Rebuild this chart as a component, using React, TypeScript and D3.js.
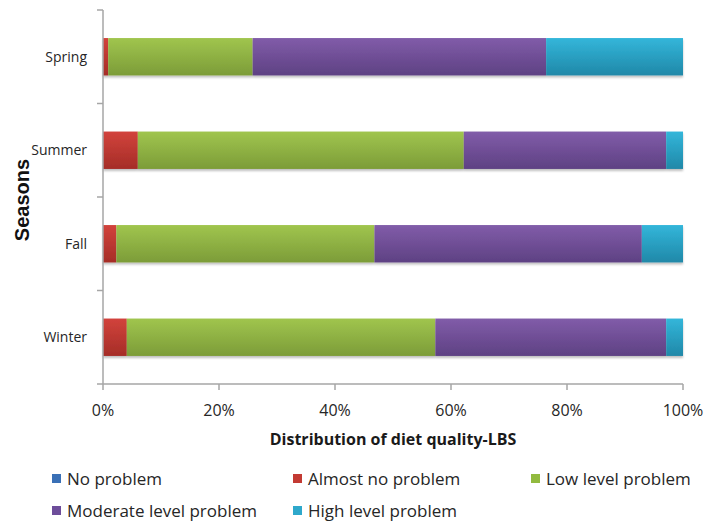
import React from "react";
import * as d3 from "d3";

// Seasons on the category axis, top to bottom
const seasons = ["Spring", "Summer", "Fall", "Winter"];

// Legend / stack order
const levels = [
  "No problem",
  "Almost no problem",
  "Low level problem",
  "Moderate level problem",
  "High level problem",
];

// Share of each diet-quality level per season (percent)
const noProblem = [0, 0, 0, 0];
const almostNoProblem = [0.9, 6.0, 2.3, 4.1];
const lowLevel = [24.9, 56.2, 44.5, 53.2];
const moderateLevel = [50.6, 34.9, 46.1, 39.8];
const highLevel = [23.6, 2.9, 7.1, 2.9];

const xTicks = [0, 20, 40, 60, 80, 100];

const seriesValues = [noProblem, almostNoProblem, lowLevel, moderateLevel, highLevel];

// Bar gradient stops (top, bottom) and legend swatch colours
const barTop = ["#4a80c4", "#d2433c", "#a0c54e", "#815ca9", "#33b6da"];
const barBottom = ["#2f5f9e", "#a52d27", "#7c9c38", "#5e4183", "#2088a8"];
const swatch = ["#3a70b6", "#c33a33", "#92ba3f", "#6d4d9a", "#2ea8cb"];

const W = 707;
const H = 524;
const FONT = "'Open Sans', 'Noto Sans', sans-serif";

export default function App() {
  const x = d3.scaleLinear().domain([0, 100]).range([103, 683]);
  const y = d3
    .scaleBand<string>()
    .domain(seasons)
    .range([10, 384])
    .paddingInner(0.6)
    .paddingOuter(0.3);

  const rows = seasons.map((s, i) => {
    const obj: Record<string, number | string> = { season: s };
    levels.forEach((l, j) => (obj[l] = seriesValues[j][i]));
    return obj;
  });
  const stack = d3.stack<Record<string, number | string>>().keys(levels);
  const stacked = stack(rows as any);

  const step = y.step();
  const boundaries = seasons.map((s) => (y(s) as number) - step * 0.3).concat([384]);

  const legendPos = [
    { x: 52, y: 479 },
    { x: 293, y: 479 },
    { x: 531, y: 479 },
    { x: 52, y: 511 },
    { x: 293, y: 511 },
  ];

  return (
    <svg
      width={W}
      height={H}
      style={{ position: "absolute", left: 0, top: 0, background: "#fff" }}
      fontFamily={FONT}
    >
      <defs>
        {levels.map((l, j) => (
          <linearGradient key={l} id={`g${j}`} x1="0" y1="0" x2="0" y2="1">
            <stop offset="0%" stopColor={barTop[j]} />
            <stop offset="100%" stopColor={barBottom[j]} />
          </linearGradient>
        ))}
        <filter id="shadow" x="-5%" y="-20%" width="110%" height="160%">
          <feDropShadow dx="0" dy="2" stdDeviation="1.2" floodColor="#000" floodOpacity="0.25" />
        </filter>
      </defs>

      {/* stacked bars */}
      <g filter="url(#shadow)">
        {stacked.map((layer, j) =>
          layer.map((d, i) => {
            const x0 = x(d[0]);
            const x1 = x(d[1]);
            if (x1 - x0 <= 0) return null;
            return (
              <rect
                key={`${j}-${i}`}
                x={x0}
                y={y(seasons[i])}
                width={x1 - x0}
                height={y.bandwidth()}
                fill={`url(#g${j})`}
              />
            );
          })
        )}
      </g>

      {/* y axis */}
      <line x1={103} x2={103} y1={10} y2={384} stroke="#a6a6a6" strokeWidth={1.5} />
      {boundaries.map((b, i) => (
        <line key={i} x1={97} x2={103} y1={b} y2={b} stroke="#a6a6a6" strokeWidth={1.5} />
      ))}
      {seasons.map((s) => (
        <text
          key={s}
          x={87}
          y={(y(s) as number) + y.bandwidth() / 2}
          dy="0.35em"
          textAnchor="end"
          fontSize={14}
          fill="#262626"
        >
          {s}
        </text>
      ))}

      {/* x axis */}
      <line x1={103} x2={683} y1={384} y2={384} stroke="#a6a6a6" strokeWidth={1.5} />
      {xTicks.map((t) => (
        <g key={t}>
          <line x1={x(t)} x2={x(t)} y1={384} y2={390} stroke="#a6a6a6" strokeWidth={1.5} />
          <text x={x(t)} y={416} textAnchor="middle" fontSize={16} fill="#262626">
            {`${t}%`}
          </text>
        </g>
      ))}

      <text x={393} y={445} textAnchor="middle" fontSize={16} fontWeight="bold" fill="#1a1a1a">
        Distribution of diet quality-LBS
      </text>

      <text
        transform="translate(29,200) rotate(-90)"
        textAnchor="middle"
        fontSize={20}
        fontWeight="bold"
        fill="#111"
        fontFamily="'Liberation Sans', Arial, sans-serif"
      >
        Seasons
      </text>

      {/* legend */}
      {levels.map((l, j) => (
        <g key={l} transform={`translate(${legendPos[j].x},${legendPos[j].y})`}>
          <rect x={0} y={-5} width={9} height={9} fill={swatch[j]} />
          <text x={15} y={0} dy="0.35em" fontSize={17} fill="#262626">
            {l}
          </text>
        </g>
      ))}
    </svg>
  );
}
